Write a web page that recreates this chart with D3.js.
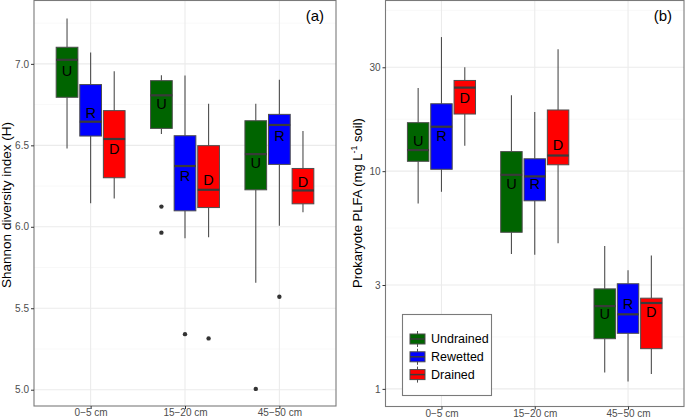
<!DOCTYPE html>
<html><head><meta charset="utf-8">
<script src="https://cdn.jsdelivr.net/npm/d3@7"></script>
<style>body{margin:0;background:#fff}svg{display:block}text{font-family:"Liberation Sans",Arial,sans-serif}</style>
</head><body><svg id="c" width="685" height="419"></svg>
<script>
// ---------- data ----------
const depths = ["0\u22125 cm", "15\u221220 cm", "45\u221250 cm"];
const treatments = ["Undrained", "Rewetted", "Drained"];
const letters = ["U", "R", "D"];
const colors = ["#006400", "#0000FF", "#FF0000"];

// Panel (a): Shannon diversity, [lower whisker, Q1, median, Q3, upper whisker] per depth
const shannonUndrained = [[6.481, 6.795, 7.025, 7.102, 7.279], [6.569, 6.604, 6.807, 6.897, 6.930], [5.657, 6.227, 6.446, 6.651, 6.756]];
const shannonRewetted  = [[6.145, 6.557, 6.645, 6.873, 7.070], [5.930, 6.098, 6.373, 6.559, 6.928], [6.006, 6.383, 6.625, 6.690, 6.902]];
const shannonDrained   = [[6.173, 6.301, 6.539, 6.713, 6.955], [5.936, 6.118, 6.227, 6.498, 6.756], [6.090, 6.141, 6.223, 6.358, 6.588]];
const shannonOutUndrained = [[], [6.124, 5.964], [5.005]];
const shannonOutRewetted  = [[], [5.341], [5.571]];
const shannonOutDrained   = [[], [5.315], []];
const shannonLabelUndrained = [6.959, 6.754, 6.391];
const shannonLabelRewetted  = [6.699, 6.309, 6.559];
const shannonLabelDrained   = [6.479, 6.287, 6.275];
const shannonTicks = [5.0, 5.5, 6.0, 6.5, 7.0];
const shannonMinor = [5.25, 5.75, 6.25, 6.75, 7.25];

// Panel (b): Prokaryote PLFA
const plfaUndrained = [[7.1, 11.1, 12.5, 16.7, 24.1], [4.16, 5.24, 9.62, 12.3, 22.3], [1.19, 1.70, 2.40, 2.88, 4.53]];
const plfaRewetted  = [[8.04, 10.2, 16.0, 20.4, 41.3], [4.13, 7.31, 9.46, 11.4, 18.7], [1.08, 1.80, 2.20, 3.04, 3.51]];
const plfaDrained   = [[13.1, 18.3, 24.2, 26.1, 30.0], [4.66, 10.7, 11.8, 19.1, 36.3], [1.17, 1.53, 2.48, 2.61, 4.10]];
const plfaLabelUndrained = [13.7, 8.74, 2.21];
const plfaLabelRewetted  = [14.5, 8.72, 2.45];
const plfaLabelDrained   = [21.7, 13.2, 2.26];
const plfaTicks = [1, 3, 10, 30];
const plfaMinor = [1.732, 5.477, 17.32, 54.77];

// ---------- drawing ----------
const svg = d3.select("#c");
const boxW = 0.23, dodge = 0.25;

function panel(opt) {
  const g = svg.append("g");
  const x = d3.scaleLinear().domain([0.4, 3.6]).range([opt.left, opt.right]);
  const y = opt.y;
  const gridC = "#ebebeb", minorC = "#f4f4f4";
  g.selectAll(".mn").data(opt.minor).join("line")
    .attr("x1", opt.left).attr("x2", opt.right)
    .attr("y1", d => y(d)).attr("y2", d => y(d))
    .attr("stroke", minorC).attr("stroke-width", 0.6);
  g.selectAll(".mj").data(opt.ticks).join("line")
    .attr("x1", opt.left).attr("x2", opt.right)
    .attr("y1", d => y(d)).attr("y2", d => y(d))
    .attr("stroke", gridC).attr("stroke-width", 1.1);
  g.selectAll(".vx").data(depths).join("line")
    .attr("x1", (d, i) => x(i + 1)).attr("x2", (d, i) => x(i + 1))
    .attr("y1", opt.top).attr("y2", opt.bottom)
    .attr("stroke", gridC).attr("stroke-width", 1.1);

  opt.series.forEach((s, t) => {
    const off = (t - 1) * dodge;
    s.stats.forEach((st, i) => {
      const cx = x(i + 1 + off);
      const x0 = x(i + 1 + off - boxW / 2), x1 = x(i + 1 + off + boxW / 2);
      g.append("line").attr("x1", cx).attr("x2", cx).attr("y1", y(st[0])).attr("y2", y(st[1]))
        .attr("stroke", "#4d4d4d").attr("stroke-width", 1.1);
      g.append("line").attr("x1", cx).attr("x2", cx).attr("y1", y(st[3])).attr("y2", y(st[4]))
        .attr("stroke", "#4d4d4d").attr("stroke-width", 1.1);
      g.append("rect").attr("x", x0).attr("width", x1 - x0)
        .attr("y", y(st[3])).attr("height", y(st[1]) - y(st[3]))
        .attr("fill", colors[t]).attr("stroke", "#4d4d4d").attr("stroke-width", 1);
      g.append("line").attr("x1", x0).attr("x2", x1).attr("y1", y(st[2])).attr("y2", y(st[2]))
        .attr("stroke", "#3a3a3a").attr("stroke-width", 2.2);
      (s.out ? s.out[i] : []).forEach(v => {
        g.append("circle").attr("cx", cx).attr("cy", y(v)).attr("r", 2.2).attr("fill", "#333");
      });
      g.append("text").attr("x", cx).attr("y", y(s.label[i])).attr("text-anchor", "middle")
        .attr("dominant-baseline", "central").attr("font-size", 14.5).attr("fill", "#000")
        .text(letters[t]);
    });
  });

  g.append("rect").attr("x", opt.left).attr("y", opt.top)
    .attr("width", opt.right - opt.left).attr("height", opt.bottom - opt.top)
    .attr("fill", "none").attr("stroke", "#7a7a7a").attr("stroke-width", 1.1);

  const ax = d3.axisBottom(x).tickValues([1, 2, 3]).tickFormat(d => depths[d - 1]).tickSize(3).tickSizeOuter(0).tickPadding(0);
  const gx = g.append("g").attr("transform", `translate(0,${opt.bottom})`).call(ax);
  const ay = d3.axisLeft(y).tickValues(opt.ticks).tickFormat(opt.fmt).tickSize(3).tickSizeOuter(0).tickPadding(2);
  const gy = g.append("g").attr("transform", `translate(${opt.left},0)`).call(ay);
  [gx, gy].forEach(a => {
    a.select(".domain").remove();
    a.selectAll(".tick line").attr("stroke", "#333").attr("stroke-width", 1);
    a.selectAll(".tick text").attr("fill", "#4d4d4d").attr("font-size", 10)
      .style("font-family", '"Liberation Sans", Arial, sans-serif');
  });

  g.append("text").attr("x", opt.right - 12).attr("y", 15).attr("text-anchor", "end")
    .attr("dominant-baseline", "central").attr("font-size", 15).attr("fill", "#000").text(opt.tag);
  return { g, x, y };
}

panel({
  left: 34, right: 336, top: 0.5, bottom: 406,
  y: d3.scaleLinear().domain([4.9, 7.389]).range([406, 0.5]),
  ticks: shannonTicks, minor: shannonMinor, fmt: d3.format(".1f"), tag: "(a)",
  series: [
    { stats: shannonUndrained, out: shannonOutUndrained, label: shannonLabelUndrained },
    { stats: shannonRewetted, out: shannonOutRewetted, label: shannonLabelRewetted },
    { stats: shannonDrained, out: shannonOutDrained, label: shannonLabelDrained }
  ]
});
svg.append("text").attr("transform", "translate(11,205) rotate(-90)").attr("text-anchor", "middle")
  .attr("font-size", 13.5).attr("fill", "#000").text("Shannon diversity index (H)");

panel({
  left: 385.5, right: 684, top: 0.5, bottom: 406.5,
  y: d3.scaleLog().domain([0.83, 60.8]).range([406.5, 0.5]),
  ticks: plfaTicks, minor: plfaMinor, fmt: d3.format("d"), tag: "(b)",
  series: [
    { stats: plfaUndrained, label: plfaLabelUndrained },
    { stats: plfaRewetted, label: plfaLabelRewetted },
    { stats: plfaDrained, label: plfaLabelDrained }
  ]
});
const tb = svg.append("text").attr("transform", "translate(362,203) rotate(-90)").attr("text-anchor", "middle")
  .attr("font-size", 13).attr("fill", "#000");
tb.append("tspan").text("Prokaryote PLFA (mg L");
tb.append("tspan").attr("dy", -5).attr("font-size", 9).text("-1");
tb.append("tspan").attr("dy", 5).text(" soil)");

const lg = svg.append("g");
lg.append("rect").attr("x", 402.5).attr("y", 314.5).attr("width", 89).attr("height", 81)
  .attr("fill", "#fff").attr("stroke", "#7a7a7a").attr("stroke-width", 1.1);
treatments.forEach((name, i) => {
  const cy = 339 + i * 17.8;
  lg.append("line").attr("x1", 417.5).attr("x2", 417.5).attr("y1", cy - 8).attr("y2", cy + 8)
    .attr("stroke", "#4d4d4d").attr("stroke-width", 1);
  lg.append("rect").attr("x", 410).attr("y", cy - 5).attr("width", 15).attr("height", 10)
    .attr("fill", colors[i]).attr("stroke", "#4d4d4d").attr("stroke-width", 1);
  lg.append("line").attr("x1", 410).attr("x2", 425).attr("y1", cy).attr("y2", cy)
    .attr("stroke", "#3a3a3a").attr("stroke-width", 1.5);
  lg.append("text").attr("x", 431).attr("y", cy).attr("dominant-baseline", "central")
    .attr("font-size", 12.5).attr("fill", "#000").text(name);
});
</script></body></html>
